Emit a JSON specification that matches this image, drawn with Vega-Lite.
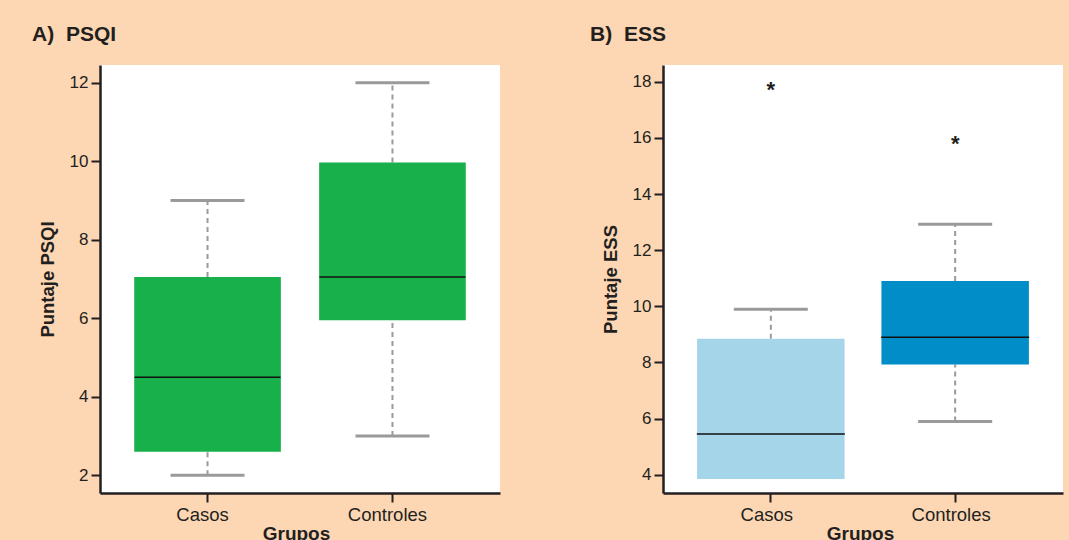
{
  "$schema": "https://vega.github.io/schema/vega-lite/v6.json",
  "background": "#FDD7B3",
  "padding": {"left": 32, "top": 24, "right": 6, "bottom": 0},
  "spacing": 90,
  "datasets": {
    "psqi": [
      {"grupo": "Casos", "lower": 2, "q1": 2.6, "median": 4.5, "q3": 7.05, "upper": 9},
      {"grupo": "Controles", "lower": 3, "q1": 5.95, "median": 7.05, "q3": 9.97, "upper": 12}
    ],
    "ess": [
      {"grupo": "Casos", "lower": null, "q1": 3.85, "median": 5.45, "q3": 8.85, "upper": 9.9},
      {"grupo": "Controles", "lower": 5.9, "q1": 7.93, "median": 8.9, "q3": 10.9, "upper": 12.93}
    ],
    "ess_out": [
      {"grupo": "Casos", "valor": 17.8},
      {"grupo": "Controles", "valor": 15.9}
    ]
  },
  "hconcat": [
    {
      "width": 400,
      "height": 428,
      "title": {"text": "A)\u00a0 PSQI", "anchor": "start", "frame": "bounds", "dx": -6, "offset": 3, "baseline": "alphabetic"},
      "data": {"name": "psqi"},
      "encoding": {
        "x": {"field": "grupo", "type": "nominal", "title": "Grupos",
              "scale": {"paddingInner": 0.207, "paddingOuter": 0.185},
              "axis": {"labelAngle": 0, "labelOffset": -5, "titleX": 196}}
      },
      "layer": [
        {"mark": {"type": "rule", "color": "#9A9A9C", "strokeWidth": 2, "strokeDash": [5, 4]},
         "encoding": {"y": {"field": "lower", "type": "quantitative", "title": "Puntaje PSQI",
                            "scale": {"domain": [1.55, 12.45], "nice": false, "zero": false},
                            "axis": {"values": [2, 4, 6, 8, 10, 12]}},
                      "y2": {"field": "q1"}}},
        {"mark": {"type": "rule", "color": "#9A9A9C", "strokeWidth": 2, "strokeDash": [5, 4]},
         "encoding": {"y": {"field": "q3", "type": "quantitative"}, "y2": {"field": "upper"}}},
        {"mark": {"type": "tick", "color": "#9A9A9C", "size": 74, "thickness": 3, "opacity": 1},
         "encoding": {"y": {"field": "lower", "type": "quantitative"}}},
        {"mark": {"type": "tick", "color": "#9A9A9C", "size": 74, "thickness": 3, "opacity": 1},
         "encoding": {"y": {"field": "upper", "type": "quantitative"}}},
        {"mark": {"type": "bar", "color": "#18B04A"},
         "encoding": {"y": {"field": "q1", "type": "quantitative"}, "y2": {"field": "q3"}}},
        {"mark": {"type": "tick", "color": "#111111", "size": 146, "thickness": 1.5, "opacity": 1},
         "encoding": {"y": {"field": "median", "type": "quantitative"}}}
      ]
    },
    {
      "width": 400,
      "height": 428,
      "title": {"text": "B)\u00a0 ESS", "anchor": "start", "frame": "bounds", "dx": -11, "offset": 3, "baseline": "alphabetic"},
      "encoding": {
        "x": {"field": "grupo", "type": "nominal", "title": "Grupos",
              "scale": {"domain": ["Casos", "Controles"], "paddingInner": 0.2, "paddingOuter": 0.185},
              "axis": {"labelAngle": 0, "labelOffset": -4, "titleX": 197}}
      },
      "layer": [
        {"data": {"name": "ess"},
         "transform": [{"filter": "datum.lower != null"}],
         "mark": {"type": "rule", "color": "#9A9A9C", "strokeWidth": 2, "strokeDash": [5, 4]},
         "encoding": {"y": {"field": "lower", "type": "quantitative", "title": "Puntaje ESS",
                            "scale": {"domain": [3.35, 18.6], "nice": false, "zero": false},
                            "axis": {"values": [4, 6, 8, 10, 12, 14, 16, 18]}},
                      "y2": {"field": "q1"}}},
        {"data": {"name": "ess"},
         "mark": {"type": "rule", "color": "#9A9A9C", "strokeWidth": 2, "strokeDash": [5, 4]},
         "encoding": {"y": {"field": "q3", "type": "quantitative"}, "y2": {"field": "upper"}}},
        {"data": {"name": "ess"},
         "transform": [{"filter": "datum.lower != null"}],
         "mark": {"type": "tick", "color": "#9A9A9C", "size": 74, "thickness": 3, "opacity": 1},
         "encoding": {"y": {"field": "lower", "type": "quantitative"}}},
        {"data": {"name": "ess"},
         "mark": {"type": "tick", "color": "#9A9A9C", "size": 74, "thickness": 3, "opacity": 1},
         "encoding": {"y": {"field": "upper", "type": "quantitative"}}},
        {"data": {"name": "ess"},
         "mark": {"type": "bar"},
         "encoding": {"y": {"field": "q1", "type": "quantitative"}, "y2": {"field": "q3"},
                      "color": {"field": "grupo", "type": "nominal", "legend": null,
                                "scale": {"domain": ["Casos", "Controles"], "range": ["#A5D5E9", "#008DC8"]}}}},
        {"data": {"name": "ess"},
         "mark": {"type": "tick", "color": "#111111", "size": 148, "thickness": 1.5, "opacity": 1},
         "encoding": {"y": {"field": "median", "type": "quantitative"}}},
        {"data": {"name": "ess_out"},
         "mark": {"type": "text", "text": "*", "fontSize": 22, "fontWeight": "bold", "font": "Liberation Sans", "color": "#231F20", "baseline": "alphabetic", "dy": 10},
         "encoding": {"y": {"field": "valor", "type": "quantitative"}}}
      ]
    }
  ],
  "config": {
    "font": "Liberation Sans",
    "view": {"stroke": null, "fill": "white"},
    "title": {"font": "Liberation Sans", "fontSize": 21, "fontWeight": "bold", "color": "#231F20"},
    "axis": {
      "grid": false,
      "domainColor": "#231F20", "domainWidth": 2.5,
      "tickColor": "#231F20", "tickWidth": 2, "tickSize": 9,
      "labelFont": "Liberation Sans", "labelFontSize": 17, "labelColor": "#231F20", "labelPadding": 3,
      "titleFont": "Liberation Sans", "titleFontSize": 18.5, "titleFontWeight": "bold", "titleColor": "#231F20"
    },
    "axisY": {"titlePadding": 12},
    "axisX": {"titlePadding": 1, "labelPadding": 3, "labelFontSize": 18.5, "titleFontSize": 19}
  }
}
